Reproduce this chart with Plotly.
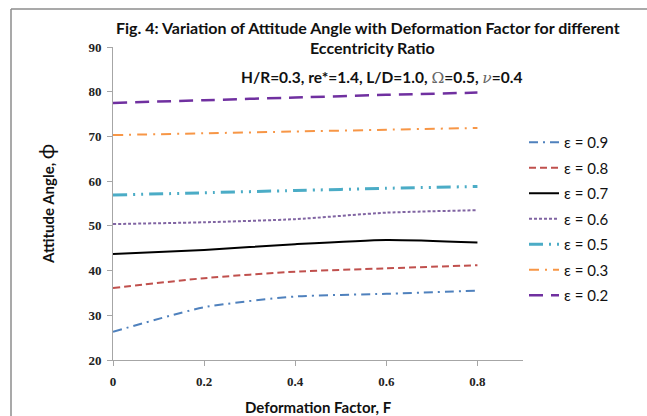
import plotly.graph_objects as go

F = [0, 0.2, 0.4, 0.6, 0.8]
eps_labels = ["ε = 0.9", "ε = 0.8", "ε = 0.7", "ε = 0.6", "ε = 0.5", "ε = 0.3", "ε = 0.2"]
phi_09 = [26.3, 31.8, 34.2, 34.8, 35.5]
phi_08 = [36.1, 38.3, 39.75, 40.5, 41.2]
phi_07 = [43.7, 44.6, 45.9, 46.85, 46.3]
phi_06 = [50.4, 50.8, 51.5, 52.95, 53.5]
phi_05 = [56.9, 57.4, 57.9, 58.4, 58.8]
phi_03 = [70.3, 70.7, 71.1, 71.5, 71.9]
phi_02 = [77.5, 78.1, 78.7, 79.3, 79.8]
x_ticks = [0, 0.2, 0.4, 0.6, 0.8]
x_ticklabels = ["0", "0.2", "0.4", "0.6", "0.8"]
y_ticks = [20, 30, 40, 50, 60, 70, 80, 90]

series = [phi_09, phi_08, phi_07, phi_06, phi_05, phi_03, phi_02]
styles = [
    dict(color="#4F81BD", width=2, dash="9px,5px,2px,5px"),
    dict(color="#C0504D", width=2, dash="7px,4px"),
    dict(color="#000000", width=2, dash="solid"),
    dict(color="#8064A2", width=2, dash="3px,2px"),
    dict(color="#4BACC6", width=3, dash="14px,6px,2px,6px,2px,6px"),
    dict(color="#F79646", width=2, dash="10px,6px,2px,6px"),
    dict(color="#7030A0", width=2.5, dash="14px,8px"),
]

fig = go.Figure()
for i, (lab, ys, st) in enumerate(zip(eps_labels, series, styles)):
    fig.add_trace(go.Scatter(x=F, y=ys, name=lab, mode="lines",
                             line=dict(shape="spline", smoothing=0.6, **st),
                             legendgroup=f"g{i}"))

L, R, T, B = 113, 523, 47, 360
W, H = 647, 416
def px(xp):
    return (xp - L) / (R - L)
def py(yp):
    return (B - yp) / (B - T)

def ann(text, x, y, size, angle=0):
    return dict(text=text, xref="paper", yref="paper", x=px(x), y=py(y),
                xanchor="center", yanchor="middle", showarrow=False, textangle=angle,
                font=dict(family="Lato", size=size, color="#111"))

sym = "<span style='font-family:DejaVu Serif;color:#666;font-weight:normal'>{}</span>"

fig.update_layout(
    width=W, height=H,
    margin=dict(l=L, r=W - R, t=T, b=H - B, pad=0),
    paper_bgcolor="white", plot_bgcolor="white",
    showlegend=True,
    legend=dict(x=px(524), y=py(126), xanchor="left", yanchor="top",
                font=dict(family="Lato", size=15, color="#111"),
                traceorder="grouped", tracegroupgap=3,
                bgcolor="rgba(0,0,0,0)", itemwidth=30),
    xaxis=dict(range=[0, 0.9], tickvals=x_ticks, ticktext=x_ticklabels,
               showgrid=False, zeroline=False, showline=True, linecolor="#A6A6A6",
               linewidth=1, ticks="outside", ticklen=5, tickcolor="#A6A6A6",
               ticklabelstandoff=4,
               tickfont=dict(family="Liberation Serif", size=13, color="#222", weight="bold")),
    yaxis=dict(range=[20, 90], tickvals=y_ticks,
               showgrid=False, zeroline=False, showline=True, linecolor="#A6A6A6",
               linewidth=1, ticks="outside", ticklen=5, tickcolor="#A6A6A6",
               ticklabelstandoff=3,
               tickfont=dict(family="Liberation Serif", size=13, color="#222", weight="bold")),
    shapes=[
        dict(type="line", xref="paper", yref="paper", x0=px(11), x1=px(647), y0=py(9), y1=py(9),
             line=dict(color="#8C8C8C", width=1.5)),
        dict(type="line", xref="paper", yref="paper", x0=px(11), x1=px(11), y0=py(9), y1=py(416),
             line=dict(color="#8C8C8C", width=1.5)),
    ],
    annotations=[
        ann("<b>Fig. 4: Variation of Attitude Angle with Deformation Factor for different</b>", 368, 27, 16),
        ann("<b>Eccentricity Ratio</b>", 372, 47, 16),
        ann("<b>H/R=0.3, re*=1.4, L/D=1.0, </b>" + sym.format("Ω") + "<b>=0.5, </b>"
            + sym.format("<i>ν</i>") + "<b>=0.4</b>", 381, 78, 15.5),
        ann("<b>Attitude Angle, </b><span style='font-size:21px'>ϕ</span>", 45, 204, 15, -90),
        ann("<b>Deformation Factor, F</b>", 318, 407, 15),
    ],
)

fig.write_html("out.html")
